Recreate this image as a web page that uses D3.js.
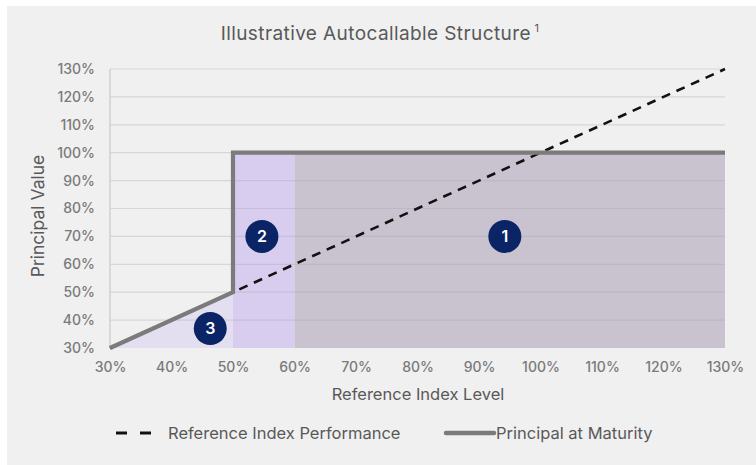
<!DOCTYPE html>
<html><head><meta charset="utf-8">
<script src="https://cdn.jsdelivr.net/npm/d3@7"></script>
<style>body{margin:0;background:#fff}svg{display:block}text{font-family:Inter,"Noto Sans",sans-serif}</style>
</head><body>
<svg id="c" width="756" height="465"></svg>
<script>
const yTicks = [30,40,50,60,70,80,90,100,110,120,130];
const xTicks = [30,40,50,60,70,80,90,100,110,120,130];
const referenceIndex = [[30,30],[130,130]];
const principal = [[30,30],[50,50],[50,100],[130,100]];
const zone3 = [[30,30],[50,50],[50,30]];
const zone2 = {x0:50,x1:60,y0:30,y1:100};
const zone1 = {x0:60,x1:130,y0:30,y1:100};
const markers = [{label:"1",x:94.2,y:70},{label:"2",x:54.7,y:70},{label:"3",x:46.3,y:37}];

const svg = d3.select("#c");
svg.append("rect").attr("x",7).attr("y",6).attr("width",749).attr("height",459).attr("fill","#f0f0f0");
const x = d3.scaleLinear().domain([30,130]).range([110,725]);
const y = d3.scaleLinear().domain([30,130]).range([348,69]);
const g = svg.append("g");

// zones
g.append("path").attr("d",d3.line().x(d=>x(d[0])).y(d=>y(d[1]))(zone3)+"Z").attr("fill","#e4dff0");
[[zone2,"#d8cdee"],[zone1,"#c9c3cf"]].forEach(([z,c])=>{
  g.append("rect").attr("x",x(z.x0)).attr("y",y(z.y1)).attr("width",x(z.x1)-x(z.x0)).attr("height",y(z.y0)-y(z.y1)).attr("fill",c);
});
// gridlines
g.selectAll(".grid").data(yTicks.slice(1)).enter().append("line")
  .attr("x1",x(30)).attr("x2",x(130)).attr("y1",d=>y(d)).attr("y2",d=>y(d))
  .attr("stroke","#a9a4b3").attr("stroke-opacity",0.35).attr("stroke-width",1.2);
// y axis line
g.append("line").attr("x1",x(30)).attr("x2",x(30)).attr("y1",y(130)).attr("y2",y(30)).attr("stroke","#d0d0d0").attr("stroke-width",1.5);

// axes
const yAxis = d3.axisLeft(y).tickValues(yTicks).tickFormat(d=>d+"%").tickSize(0).tickPadding(15);
const ya = g.append("g").attr("transform",`translate(${x(30)},0)`).call(yAxis);
ya.select(".domain").remove();
ya.selectAll("text").attr("fill","#7a7a7a").attr("font-size",14).attr("font-weight",500).attr("font-family","Inter,sans-serif");
const xAxis = d3.axisBottom(x).tickValues(xTicks).tickFormat(d=>d+"%").tickSize(0).tickPadding(14);
const xa = g.append("g").attr("transform",`translate(0,${y(30)})`).call(xAxis);
xa.select(".domain").remove();
xa.selectAll("text").attr("fill","#7a7a7a").attr("font-size",14).attr("font-weight",500).attr("font-family","Inter,sans-serif");

const line = d3.line().x(d=>x(d[0])).y(d=>y(d[1]));
g.append("path").attr("d",line(referenceIndex)).attr("fill","none").attr("stroke","#111").attr("stroke-width",2.6).attr("stroke-dasharray","9,7").attr("stroke-dashoffset",-14);
g.append("path").attr("d",line(principal)).attr("fill","none").attr("stroke","#7b7b7b").attr("stroke-width",4.2).attr("stroke-linejoin","miter");

const m = g.selectAll(".m").data(markers).enter().append("g").attr("transform",d=>`translate(${x(d.x)},${y(d.y)})`);
m.append("circle").attr("r",16.5).attr("fill","#0b2465");
m.append("text").text(d=>d.label).attr("text-anchor","middle").attr("dy","0.36em").attr("fill","#fff").attr("font-size",16).attr("font-weight",600);

// titles
const t = svg.append("text").attr("x",380).attr("y",40).attr("text-anchor","middle").attr("fill","#595959").attr("font-size",19).attr("letter-spacing",0.4);
t.append("tspan").text("Illustrative Autocallable Structure");
t.append("tspan").text(" 1").attr("font-size",11).attr("dy",-8);
svg.append("text").attr("x",418).attr("y",400).attr("text-anchor","middle").attr("fill","#595959").attr("font-size",16.5).text("Reference Index Level");
svg.append("text").attr("transform","translate(44,216) rotate(-90)").attr("text-anchor","middle").attr("fill","#595959").attr("font-size",17.5).text("Principal Value");

// legend
const lg = svg.append("g");
lg.append("line").attr("x1",116).attr("x2",151).attr("y1",433).attr("y2",433).attr("stroke","#111").attr("stroke-width",2.8).attr("stroke-dasharray","11,13");
lg.append("text").attr("x",168).attr("y",439).attr("fill","#595959").attr("font-size",16.5).text("Reference Index Performance");
lg.append("line").attr("x1",446).attr("x2",494).attr("y1",433).attr("y2",433).attr("stroke","#7b7b7b").attr("stroke-width",4.5).attr("stroke-linecap","round");
lg.append("text").attr("x",496).attr("y",439).attr("fill","#595959").attr("font-size",16.5).text("Principal at Maturity");
</script>
</body></html>
